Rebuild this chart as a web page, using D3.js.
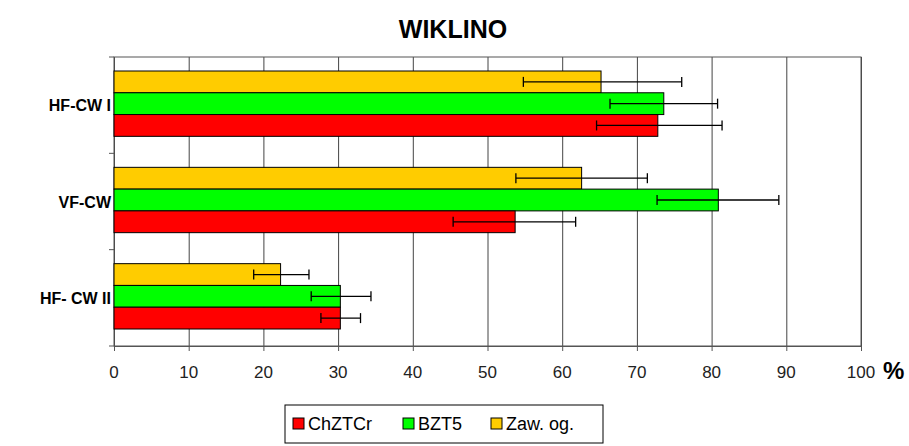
<!DOCTYPE html>
<html><head><meta charset="utf-8">
<script src="https://cdn.jsdelivr.net/npm/d3@7"></script>
<style>body{margin:0;background:#fff}text{font-family:"Liberation Sans",Arial,sans-serif}</style>
</head><body><svg id="c" width="909" height="446"></svg>
<script>
const categories = ["HF-CW I", "VF-CW", "HF- CW II"];
const seriesNames = ["Zaw. og.", "BZT5", "ChZTCr"];
const colors = ["#FFCC00", "#00FF00", "#FF0000"];
const zawValues = [65.2, 62.6, 22.3];
const zawLow = [54.8, 53.8, 18.7];
const zawHigh = [76.0, 71.4, 26.1];
const bztValues = [73.6, 80.9, 30.3];
const bztLow = [66.4, 72.7, 26.4];
const bztHigh = [80.8, 89.0, 34.4];
const chzValues = [72.8, 53.7, 30.3];
const chzLow = [64.6, 45.4, 27.7];
const chzHigh = [81.4, 61.8, 33.0];
const xTicks = [0,10,20,30,40,50,60,70,80,90,100];

const series = [
  {vals: zawValues, lo: zawLow, hi: zawHigh},
  {vals: bztValues, lo: bztLow, hi: bztHigh},
  {vals: chzValues, lo: chzLow, hi: chzHigh}
];
const svg = d3.select("#c");
const L=114, R=861, T=57, B=346;
const x = d3.scaleLinear().domain([0,100]).range([L,R]);
const y = d3.scaleBand().domain(categories).range([T,B]).paddingInner(0).paddingOuter(0);
const inner = d3.scaleBand().domain([0,1,2]).range([14, y.bandwidth()-17]);

svg.append("text").attr("x",453).attr("y",38).attr("text-anchor","middle")
  .attr("font-size",25).attr("font-weight","bold").text("WIKLINO");

const g = svg.append("g");
g.append("g").attr("transform",`translate(0,${B})`)
  .call(d3.axisBottom(x).tickValues(xTicks).tickSize(-(B-T)).tickFormat(""))
  .call(s=>{s.select(".domain").remove();s.selectAll("line").attr("stroke","#444");});
g.append("rect").attr("x",L).attr("y",T).attr("width",R-L).attr("height",B-T)
  .attr("fill","none").attr("stroke","#555");
g.append("g").attr("transform",`translate(0,${B})`)
  .call(d3.axisBottom(x).tickValues(xTicks).tickSize(5).tickFormat(""))
  .call(s=>{s.select(".domain").attr("stroke","#555");s.selectAll("line").attr("stroke","#555");});
const yTickVals=[T, T+y.step(), T+2*y.step(), B];
yTickVals.forEach(v=>g.append("line").attr("x1",L-5).attr("x2",L).attr("y1",v).attr("y2",v).attr("stroke","#555"));

xTicks.forEach(t=>svg.append("text").attr("x",x(t)).attr("y",B+32).attr("text-anchor","middle")
  .attr("font-size",17).attr("fill","#222").text(t));
svg.append("text").attr("x",R+22).attr("y",B+33).attr("font-size",24).attr("font-weight","bold").text("%");

categories.forEach((c,i)=>svg.append("text").attr("x",L-3).attr("y",y(c)+y.bandwidth()/2+6)
  .attr("text-anchor","end").attr("font-size",16).attr("font-weight","bold").text(c));

series.forEach((s,si)=>{
  categories.forEach((c,ci)=>{
    const yy=y(c)+inner(si), h=inner.bandwidth();
    g.append("rect").attr("x",x(0)).attr("y",yy).attr("width",x(s.vals[ci])-x(0)).attr("height",h)
      .attr("fill",colors[si]).attr("stroke","#000").attr("stroke-width",1);
    const cy=yy+h/2;
    g.append("line").attr("x1",x(s.lo[ci])).attr("x2",x(s.hi[ci])).attr("y1",cy).attr("y2",cy).attr("stroke","#000").attr("stroke-width",1.3);
    [s.lo[ci],s.hi[ci]].forEach(v=>g.append("line").attr("x1",x(v)).attr("x2",x(v)).attr("y1",cy-5).attr("y2",cy+5).attr("stroke","#000").attr("stroke-width",1.3));
  });
});

const lg=svg.append("g");
lg.append("rect").attr("x",285).attr("y",405).attr("width",318).attr("height",38).attr("fill","#fff").attr("stroke","#000");
const legendItems=[{n:"ChZTCr",c:colors[2],x:293},{n:"BZT5",c:colors[1],x:403},{n:"Zaw. og.",c:colors[0],x:491}];
legendItems.forEach(d=>{
  lg.append("rect").attr("x",d.x).attr("y",418).attr("width",11).attr("height",11).attr("fill",d.c).attr("stroke","#000");
  lg.append("text").attr("x",d.x+15).attr("y",430).attr("font-size",18).text(d.n);
});
</script></body></html>
